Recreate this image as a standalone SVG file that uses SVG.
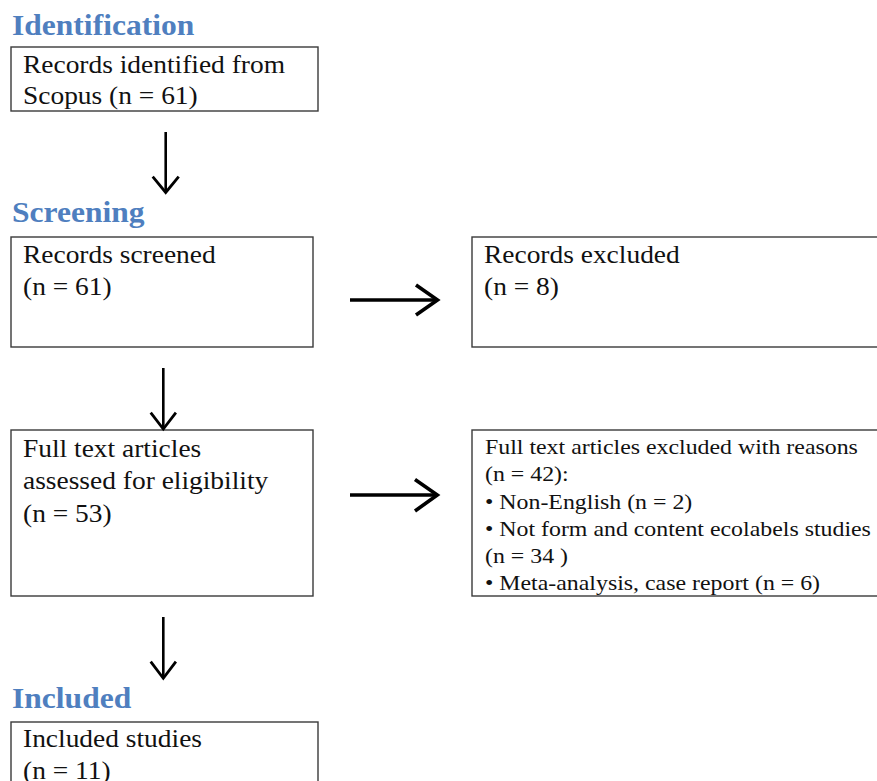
<svg xmlns="http://www.w3.org/2000/svg" width="877" height="781" viewBox="0 0 877 781">
<style>
.bg{fill:#ffffff}
.box{fill:#ffffff;stroke:#3a3a3a;stroke-width:1.4}
.title{font-family:"Liberation Serif","Times New Roman",serif;font-weight:bold;font-size:29.5px;fill:#4f7fbf}
.body{font-family:"Liberation Serif","Times New Roman",serif;font-size:24.5px;fill:#111111}
.small{font-family:"Liberation Serif","Times New Roman",serif;font-size:21.3px;fill:#111111}
.shaft{fill:none;stroke:#000000;stroke-width:2.6;stroke-linecap:butt}
.head{fill:none;stroke:#000000;stroke-width:2.8;stroke-linejoin:miter;stroke-linecap:butt}
.hshaft{fill:none;stroke:#000000;stroke-width:3.4}
.hhead{fill:none;stroke:#000000;stroke-width:3.6;stroke-linejoin:miter}
</style>
<rect class="bg" x="0" y="0" width="877" height="781"/>

<g id="titles">
<text class="title" transform="translate(12,35) scale(1.07,1)">Identification</text>
<text class="title" transform="translate(12,222) scale(1.07,1)">Screening</text>
<text class="title" transform="translate(12,708) scale(1.07,1)">Included</text>
</g>

<g id="identified">
<rect class="box" x="11" y="47" width="307" height="64"/>
<text class="body" transform="translate(23,73) scale(1.12,1)"><tspan x="0" y="0">Records identified from</tspan><tspan x="0" y="31">Scopus (n = 61)</tspan></text>
</g>

<g id="screened">
<rect class="box" x="11" y="237" width="302" height="110"/>
<text class="body" transform="translate(23,263) scale(1.12,1)"><tspan x="0" y="0">Records screened</tspan><tspan x="0" y="32">(n = 61)</tspan></text>
</g>

<g id="excluded">
<rect class="box" x="472" y="237" width="420" height="110"/>
<text class="body" transform="translate(484,263) scale(1.12,1)"><tspan x="0" y="0">Records excluded</tspan><tspan x="0" y="32">(n = 8)</tspan></text>
</g>

<g id="assessed">
<rect class="box" x="11" y="430" width="302" height="166"/>
<text class="body" transform="translate(23,457) scale(1.12,1)"><tspan x="0" y="0">Full text articles</tspan><tspan x="0" y="32.5">assessed for eligibility</tspan><tspan x="0" y="65">(n = 53)</tspan></text>
</g>

<g id="fulltext-excluded">
<rect class="box" x="472" y="430" width="420" height="166"/>
<text class="small" transform="translate(485,454) scale(1.12,1)"><tspan x="0" y="0">Full text articles excluded with reasons</tspan><tspan x="0" y="27.3">(n = 42):</tspan><tspan x="0" y="54.6">• Non-English (n = 2)</tspan><tspan x="0" y="81.9">• Not form and content ecolabels studies</tspan><tspan x="0" y="109.2">(n = 34 )</tspan><tspan x="0" y="136.5">• Meta-analysis, case report (n = 6)</tspan></text>
</g>

<g id="included">
<rect class="box" x="11" y="722" width="307" height="80"/>
<text class="body" transform="translate(23,747) scale(1.12,1)"><tspan x="0" y="0">Included studies</tspan><tspan x="0" y="32">(n = 11)</tspan></text>
</g>

<g id="connectors">
<line class="shaft" x1="165.7" y1="132" x2="165.7" y2="191"/>
<polyline class="head" points="152.7,176.7 165.7,192.5 178.7,176.7"/>

<line class="shaft" x1="163.3" y1="368" x2="163.3" y2="427.5"/>
<polyline class="head" points="150.7,412.7 163.3,429 175.9,412.7"/>

<line class="shaft" x1="163.3" y1="617" x2="163.3" y2="677"/>
<polyline class="head" points="150.7,661.7 163.3,678.3 175.9,661.7"/>

<line class="hshaft" x1="350" y1="300" x2="436" y2="300"/>
<polyline class="hhead" points="416,285 437.5,300 416,315"/>

<line class="hshaft" x1="350" y1="495" x2="436" y2="495"/>
<polyline class="hhead" points="415,479.5 437.3,495 415,511"/>
</g>
</svg>
